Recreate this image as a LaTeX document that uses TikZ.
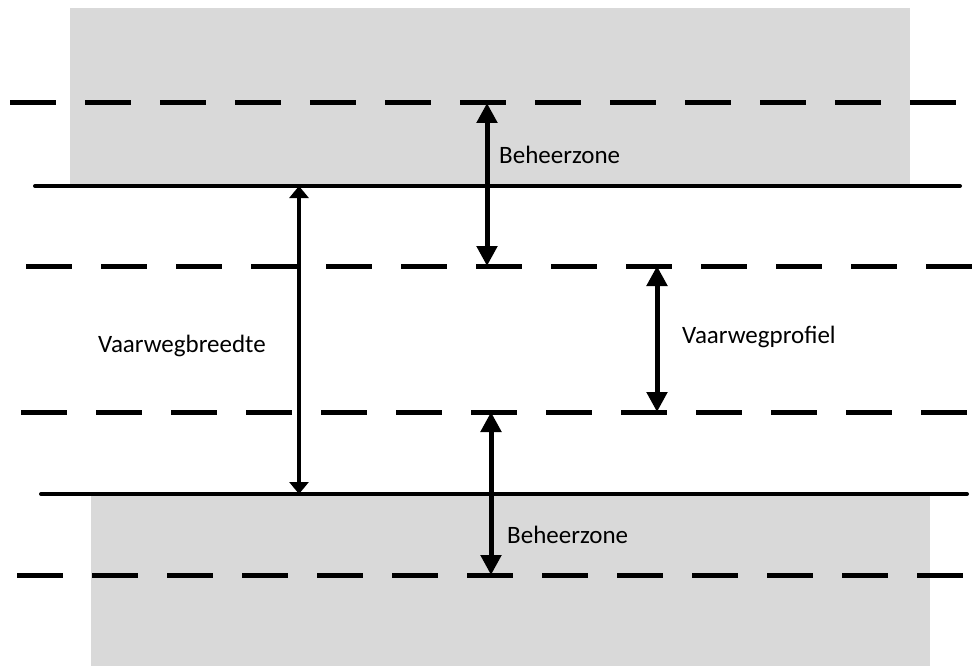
\documentclass[tikz,border=0pt]{standalone}
\usepackage{fontspec}
\setmainfont{Carlito}
\usetikzlibrary{arrows.meta}
\definecolor{zone}{rgb}{0.85,0.85,0.85}
\tikzset{lijn/.style={line width=4pt, line cap=round},
         streep/.style={line width=5pt, dash pattern=on 46pt off 29pt},
         pijl/.style={line width=5pt,
                      {Triangle[width=20pt,length=20pt]}-{Triangle[width=20pt,length=20pt]}},
         breed/.style={line width=4pt,
                      {Triangle[width=19pt,length=12pt]}-{Triangle[width=19pt,length=12pt]}},
         tekst/.style={anchor=base west, inner sep=0pt, font=\fontsize{25}{30}\selectfont}}

\begin{document}
\begin{tikzpicture}[x=1pt,y=-1pt]
\useasboundingbox (0,0) rectangle (975,666);
% Grey zones:
\fill [zone] (70,8) rectangle (910,186); % Upper zone
\fill [zone] (91,494) rectangle (930,666); % Lower zone
% Dashed lines:
\draw[streep] (10,103) -- (985,103);
\draw[streep] (26,266) -- (985,266);
\draw[streep] (21,412) -- (985,412);
\draw[streep] (17,575) -- (985,575);
% Banks:
\draw[lijn] (35,186) -- (960,186);
\draw[lijn] (41,494) -- (967,494);

% End points of the arrows:
\coordinate (breedteboven) at (299,186);
\coordinate (breedteonder) at (299,494);
\coordinate (zoneboven) at (487,103);
\coordinate (zoneonder) at (487,266);
\coordinate (profielboven) at (657,266);
\coordinate (profielonder) at (657,412);
\coordinate (zone2boven) at (491,412);
\coordinate (zone2onder) at (491,575);
% Arrows:
\draw[breed] (breedteboven) -- (breedteonder);
\draw[pijl] (zoneboven) -- (zoneonder);
\draw[pijl] (profielboven) -- (profielonder);
\draw[pijl] (zone2boven) -- (zone2onder);
% Labels:
\node[tekst] (breedte) at (98,352) {Vaarwegbreedte};
\node[tekst] (zone) at (499,164) {Beheerzone};
\node[tekst] (profiel) at (682,343) {Vaarwegprofiel};
\node[tekst] (zone2) at (507,543) {Beheerzone};
\end{tikzpicture}
\end{document}
